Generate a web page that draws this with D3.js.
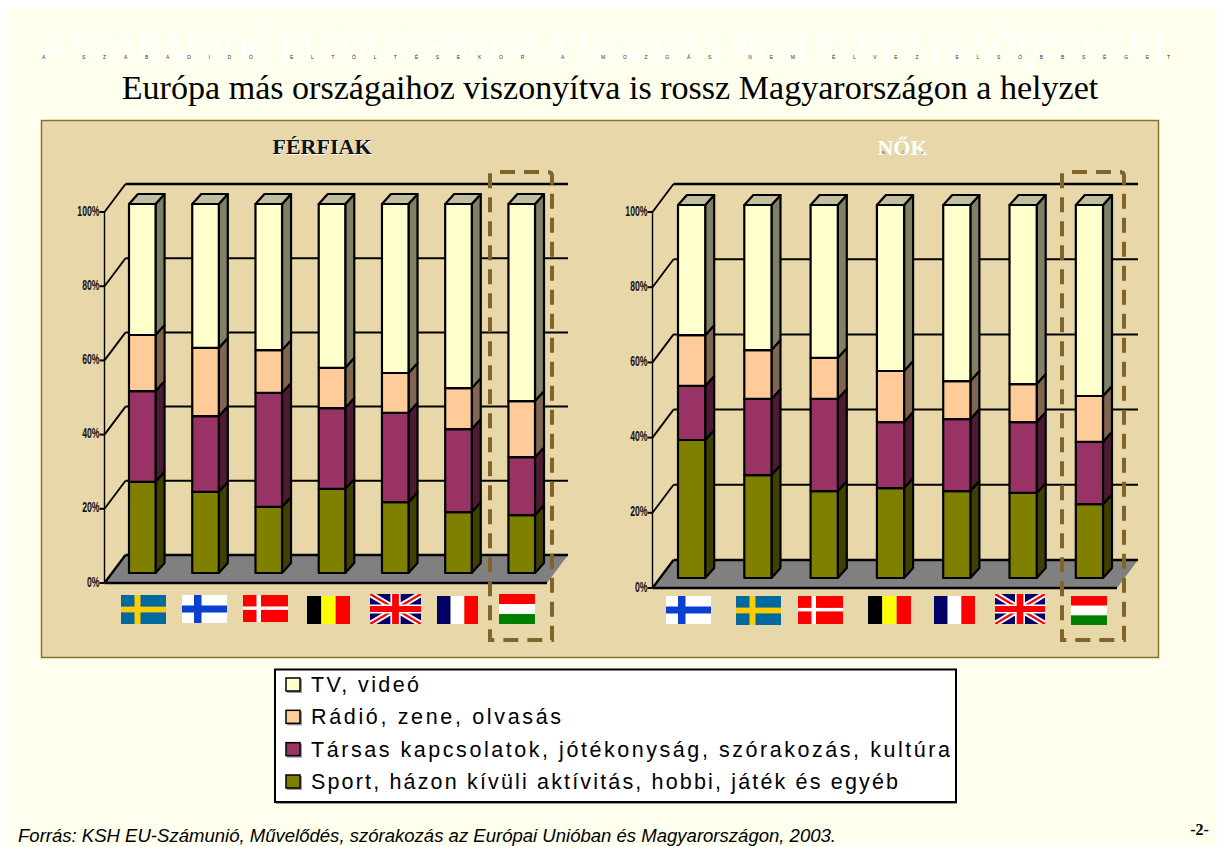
<!DOCTYPE html>
<html><head><meta charset="utf-8">
<script src="https://cdn.jsdelivr.net/npm/d3@7"></script>
<style>html,body{margin:0;padding:0;background:#fff;overflow:hidden}svg{display:block}</style>
</head><body><svg id="c" width="1217" height="846"></svg>
<script>
// ---------- data ----------
const seriesKeys = ["sport","social","radio","tv"];
const legendLabels = ["TV, videó","Rádió, zene, olvasás","Társas kapcsolatok, jótékonyság, szórakozás, kultúra","Sport, házon kívüli aktívitás, hobbi, játék és egyéb"];
const yTicks = [0,20,40,60,80,100];

const menCountries = ["SE","FI","DK","BE","GB","FR","HU"];
const menSport  = [24.7,22.0,17.9,22.8,19.2,16.5,15.7];
const menSocial = [24.6,20.5,30.9,21.9,24.2,22.5,15.7];
const menRadio  = [15.2,18.5,11.6,10.9,10.8,11.1,15.2];
const menTv     = [35.5,39.0,39.6,44.4,45.8,49.9,53.4];

const womenCountries = ["FI","SE","DK","BE","FR","GB","HU"];
const womenSport  = [37.0,27.6,23.3,24.1,23.3,22.8,19.8];
const womenSocial = [14.5,20.4,24.7,17.7,19.3,19.0,16.7];
const womenRadio  = [13.6,13.1,11.0,13.7,10.2,10.2,12.3];
const womenTv     = [34.9,38.9,41.0,44.5,47.2,48.0,51.2];

// ---------- styles ----------
const front = {sport:"#808000",social:"#993366",radio:"#FFCC99",tv:"#FFFFCC"};
const side  = {sport:"#404000",social:"#4D1A33",radio:"#806650",tv:"#808066"};
const legendOrder = ["tv","radio","social","sport"];
const legendWidths = [108,250,639,587];
const svg = d3.select("#c");
const serif = "'Liberation Serif',serif", sans = "'Liberation Sans',sans-serif";

svg.append("rect").attr("x",7).attr("y",9).attr("width",1210).attr("height",837).attr("fill","#FFFFEE");

// header
svg.append("text").attr("x",42).attr("y",60).attr("textLength",1128).attr("lengthAdjust","spacingAndGlyphs")
  .attr("font-family",serif).attr("font-size",37).attr("fill","#fff")
  .text("A SZABADIDŐ ELTÖLTÉSEKOR A MOZGÁS NEM ÉLVEZ ELSŐBBSÉGET");
svg.append("text").attr("x",42).attr("y",59).attr("textLength",1128).attr("lengthAdjust","spacing")
  .attr("font-family",sans).attr("font-size",5).attr("fill","#333")
  .text("A SZABADIDŐ ELTÖLTÉSEKOR A MOZGÁS NEM ÉLVEZ ELSŐBBSÉGET");
svg.append("text").attr("x",610).attr("y",99).attr("text-anchor","middle")
  .attr("font-family",serif).attr("font-size",34.1).attr("fill","#000")
  .text("Európa más országaihoz viszonyítva is rossz Magyarországon a helyzet");

// panel
svg.append("rect").attr("x",41.5).attr("y",120.5).attr("width",1117).attr("height",537)
  .attr("fill","#E8D8A9").attr("stroke","#8A7030").attr("stroke-width",1.5);

// flags
function flag(g,code){
  const W=60,H=40;
  const r=(x,y,w,h,c)=>g.append("rect").attr("x",x).attr("y",y).attr("width",w).attr("height",h).attr("fill",c);
  if(code==="SE"){r(0,0,W,H,"#006A9E");r(18,0,8,H,"#FFCC00");r(0,16,W,8,"#FFCC00");}
  if(code==="FI"){r(0,0,W,H,"#fff");r(16,0,10,H,"#0A3FD0");r(0,15,W,10,"#0A3FD0");}
  if(code==="DK"){r(0,0,W,H,"#FF0000");r(18,0,6,H,"#fff");r(0,17,W,5,"#fff");}
  if(code==="BE"){r(0,0,20,H,"#000");r(20,0,20,H,"#FFFF00");r(40,0,20,H,"#FF0000");}
  if(code==="FR"){r(0,0,20,H,"#000066");r(20,0,20,H,"#fff");r(40,0,20,H,"#FF0000");}
  if(code==="HU"){r(0,0,W,13.4,"#FF0000");r(0,13.4,W,13.3,"#fff");r(0,26.7,W,13.3,"#008000");}
  if(code==="GB"){
    r(0,0,W,H,"#000066");
    const l=(x1,y1,x2,y2,c,w)=>g.append("line").attr("x1",x1).attr("y1",y1).attr("x2",x2).attr("y2",y2).attr("stroke",c).attr("stroke-width",w);
    l(0,0,W,H,"#fff",8);l(W,0,0,H,"#fff",8);l(0,0,W,H,"#FF0000",3);l(W,0,0,H,"#FF0000",3);
    r(24,0,12,H,"#fff");r(0,14,W,12,"#fff");r(26,0,8,H,"#FF0000");r(0,16,W,8,"#FF0000");
  }
}

function chart(o){
  const g = svg.append("g");
  const dx=21, dy=28, bdx=9, bdy=10;
  const y = d3.scaleLinear().domain([0,100]).range([o.frontY0,o.frontY0-o.axisH]);
  const back = v=>y(v)-dy;
  const barY = d3.scaleLinear().domain([0,100]).range([o.barY0,o.barY1]);
  const x = d3.scaleBand().domain(o.countries.map((c,i)=>i)).range([o.x0,o.x1]).paddingInner(o.pad).paddingOuter(0);

  // floor
  g.append("path").attr("d",`M${o.axisX},${y(0)}L${o.axisX+dx},${back(0)}L${o.backEnd},${back(0)}L${o.backEnd-dx},${y(0)}Z`)
    .attr("fill","#808080");
  // grid
  yTicks.forEach(t=>{
    g.append("line").attr("x1",o.axisX+dx).attr("x2",o.backEnd).attr("y1",back(t)).attr("y2",back(t)).attr("stroke","#000").attr("stroke-width",t===0||t===100?2.4:2);
    g.append("line").attr("x1",o.axisX).attr("x2",o.axisX+dx).attr("y1",y(t)).attr("y2",back(t)).attr("stroke","#000").attr("stroke-width",t===0?2.4:1.8);
    g.append("line").attr("x1",o.axisX-5).attr("x2",o.axisX).attr("y1",y(t)).attr("y2",y(t)).attr("stroke","#000").attr("stroke-width",2);
    g.append("text").attr("transform",`translate(${o.axisX-5},${y(t)+3.5}) scale(0.62,1)`).attr("text-anchor","end")
      .attr("font-family",sans).attr("font-size",14).attr("font-weight","bold").attr("fill","#111").text(t+"%");
  });
  g.append("line").attr("x1",o.axisX).attr("x2",o.axisX).attr("y1",y(0)).attr("y2",y(100)).attr("stroke","#000").attr("stroke-width",1.4);
  g.append("line").attr("x1",o.axisX).attr("x2",o.backEnd-dx).attr("y1",y(0)).attr("y2",y(0)).attr("stroke","#000").attr("stroke-width",2.4);

  // bars
  const rows = o.countries.map((c,i)=>({i,sport:o.sport[i],social:o.social[i],radio:o.radio[i],tv:o.tv[i]}));
  const stacked = d3.stack().keys(seriesKeys)(rows);
  rows.forEach((row,ri)=>{
    const bx=x(ri), w=x.bandwidth();
    const bg=g.append("g").attr("stroke","#000").attr("stroke-width",2.2).attr("stroke-linejoin","round");
    stacked.forEach(s=>{
      const [a,b]=s[ri]; const ya=barY(a), yb=barY(b);
      bg.append("path").attr("d",`M${bx+w},${ya}L${bx+w+bdx},${ya-bdy}L${bx+w+bdx},${yb-bdy}L${bx+w},${yb}Z`).attr("fill",side[s.key]);
      bg.append("rect").attr("x",bx).attr("y",yb).attr("width",w).attr("height",ya-yb).attr("fill",front[s.key]);
    });
    const t=barY(100);
    bg.append("path").attr("d",`M${bx},${t}L${bx+bdx},${t-bdy}L${bx+w+bdx},${t-bdy}L${bx+w},${t}Z`).attr("fill","#C0C0A0");
  });

  // flags
  o.countries.forEach((c,i)=>{
    const [fx,fy,fw,fh]=o.flags[i];
    const f=g.append("svg").attr("x",fx).attr("y",fy).attr("width",fw).attr("height",fh)
      .attr("viewBox","0 0 60 40").attr("preserveAspectRatio","none");
    flag(f,c);
  });

  // highlight
  g.append("path").attr("d",`M${o.hl[0]+10},${o.hl[1]}H${o.hl[2]-4}Q${o.hl[2]},${o.hl[1]} ${o.hl[2]},${o.hl[1]+4}V${o.hl[3]}H${o.hl[0]}V${o.hl[1]}`)
    .attr("fill","none").attr("stroke","#806428").attr("stroke-width",4).attr("stroke-dasharray","15 9");
}

chart({countries:menCountries,sport:menSport,social:menSocial,radio:menRadio,tv:menTv,
  axisX:104.5,frontY0:583,axisH:371,backEnd:568,barY0:573,barY1:204,x0:129,x1:535,pad:0.58,
  hl:[490,172,552,640],
  flags:[[121,595,45,29],[182,595,45,28],[243,595,45,27],[307,596,43,28],[370,594,51,30],[437,596,41,28],[499,594,36,30]]});
chart({countries:womenCountries,sport:womenSport,social:womenSocial,radio:womenRadio,tv:womenTv,
  axisX:652.5,frontY0:588,axisH:376,backEnd:1138,barY0:578,barY1:205,x0:678,x1:1103,pad:0.59,
  hl:[1062,172,1124,640],
  flags:[[666,596,45,28],[736,596,45,29],[798,596,45,28],[868,596,43,28],[934,596,41,28],[995,594,50,30],[1071,596,36,29]]});

// panel titles
const tFont = 22;
svg.append("text").attr("x",323).attr("y",155).attr("text-anchor","middle").attr("font-family",serif).attr("font-weight","bold").attr("font-size",tFont).attr("fill","#fff").text("FÉRFIAK");
svg.append("text").attr("x",322).attr("y",154).attr("text-anchor","middle").attr("font-family",serif).attr("font-weight","bold").attr("font-size",tFont).attr("fill","#111").text("FÉRFIAK");
svg.append("text").attr("x",902.5).attr("y",155).attr("text-anchor","middle").attr("font-family",serif).attr("font-weight","bold").attr("font-size",tFont).attr("fill","#fff").text("NŐK");
svg.append("text").attr("x",882).attr("y",154).attr("textLength",42).attr("lengthAdjust","spacing").attr("font-family",sans).attr("font-size",4).attr("fill","#444").text("N Ő K");

// legend
svg.append("rect").attr("x",276).attr("y",671).attr("width",681).attr("height",133).attr("fill","#999");
svg.append("rect").attr("x",275).attr("y",669.5).attr("width",681).attr("height",132.5).attr("fill","#fff").attr("stroke","#000").attr("stroke-width",2);
const ly = d3.scalePoint().domain(d3.range(4)).range([685,782]);
legendLabels.forEach((t,i)=>{
  svg.append("rect").attr("x",287).attr("y",ly(i)-6).attr("width",15).attr("height",14).attr("fill","#999");
  svg.append("rect").attr("x",286).attr("y",ly(i)-7).attr("width",14).attr("height",13).attr("fill",front[legendOrder[i]]).attr("stroke","#000").attr("stroke-width",1.5);
  svg.append("text").attr("x",311).attr("y",ly(i)+7).attr("font-family",sans).attr("font-size",21.5)
    .attr("textLength",legendWidths[i]).attr("lengthAdjust","spacing").attr("fill","#000").text(t);
});

// footer
svg.append("text").attr("x",18).attr("y",842).attr("textLength",818).attr("lengthAdjust","spacingAndGlyphs").attr("font-family",sans).attr("font-style","italic").attr("font-size",18).attr("fill","#000")
  .text("Forrás: KSH EU-Számunió, Művelődés, szórakozás az Európai Unióban és Magyarországon, 2003.");
svg.append("text").attr("x",1199.5).attr("y",835).attr("text-anchor","middle").attr("font-family",serif).attr("font-size",16).attr("font-weight","bold").attr("fill","#000").text("-2-");
</script></body></html>
